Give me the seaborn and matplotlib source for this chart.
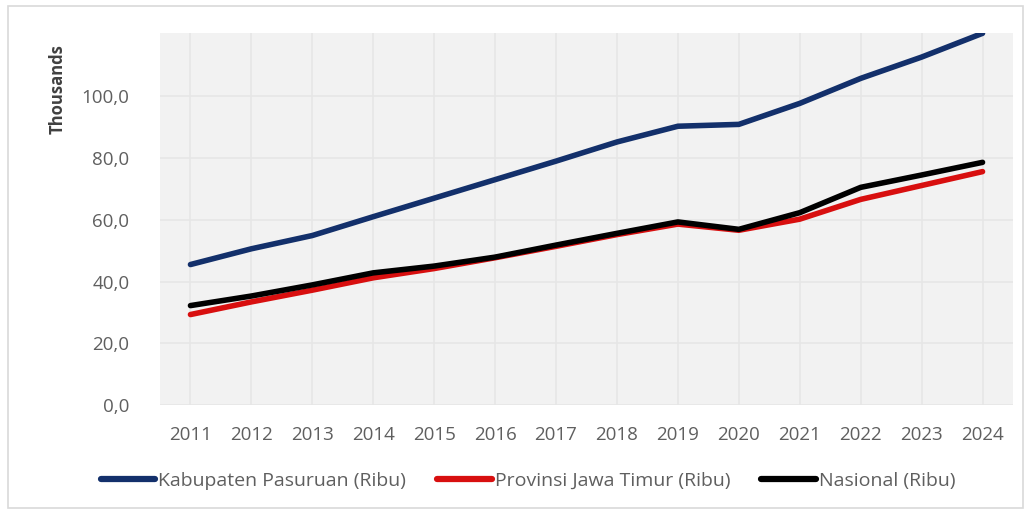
import matplotlib
matplotlib.use("Agg")
import matplotlib.pyplot as plt
import seaborn as sns
import pandas as pd
from matplotlib.patches import Rectangle

years = [str(y) for y in range(2011, 2025)]
kabupaten = [45.5, 50.6, 54.9, 61.0, 67.0, 73.0, 79.0, 85.2, 90.3, 90.9, 97.7, 105.8, 112.7, 120.4]
provinsi = [29.3, 33.4, 37.2, 41.2, 44.2, 47.7, 51.4, 55.2, 58.6, 56.6, 60.2, 66.6, 71.1, 75.6]
nasional = [32.2, 35.3, 38.9, 42.8, 45.0, 47.9, 51.8, 55.6, 59.3, 56.9, 62.3, 70.5, 74.5, 78.6]
series_names = ["Kabupaten Pasuruan (Ribu)", "Provinsi Jawa Timur (Ribu)", "Nasional (Ribu)"]
colors = ["#13306b", "#d80f0f", "#000000"]
yticks = [0, 20, 40, 60, 80, 100]

df = pd.DataFrame({"year": years * 3,
                   "value": kabupaten + provinsi + nasional,
                   "series": [series_names[0]] * 14 + [series_names[1]] * 14 + [series_names[2]] * 14})

sns.set_theme(style="white")
plt.rcParams['font.family'] = ['Open Sans', 'DejaVu Sans']

fig = plt.figure(figsize=(10.29, 5.12), dpi=100)
ax = fig.add_axes([160/1029, 1 - 405/512, (1013-160)/1029, (405-33)/512])
ax.set_facecolor("#f2f2f2")

sns.lineplot(data=df, x="year", y="value", hue="series", palette=colors,
             linewidth=4, ax=ax, sort=False, legend=False)

ax.set_xlim(-0.5, 13.5)
ax.set_ylim(0, 120.5)
ax.set_yticks(yticks)
ax.set_yticklabels([f"{v:.1f}".replace(".", ",") for v in yticks])
ax.grid(True, color="#e6e6e6", linewidth=1.2)
ax.set_axisbelow(True)
for s in ax.spines.values():
    s.set_visible(False)
ax.tick_params(axis="both", length=0, labelsize=13.5, colors="#5f5f5f")
ax.tick_params(axis="y", pad=22)
ax.tick_params(axis="x", pad=15)
ax.set_xlabel("")
ax.set_ylabel("")

fig.text(58/1029, 1 - 89/512, "Thousands", rotation=90, ha="center", va="center",
         fontsize=12, fontweight="bold", color="#404040")

# outer chart border
fig.patches.append(Rectangle((8/1029, 4/512), 1015/1029, 502/512, transform=fig.transFigure,
                             fill=False, edgecolor="#d9d9d9", linewidth=1.2))

# legend
handles = [plt.Line2D([], [], color=c, linewidth=4.5) for c in colors]
leg = fig.legend(handles, series_names, loc="center", bbox_to_anchor=(528/1029, 1 - 481/512),
                 ncol=3, frameon=False, fontsize=14, handlelength=2.8, handletextpad=0.15,
                 columnspacing=1.6)
for t in leg.get_texts():
    t.set_color("#5f5f5f")

fig.savefig("out.png", dpi=100)
